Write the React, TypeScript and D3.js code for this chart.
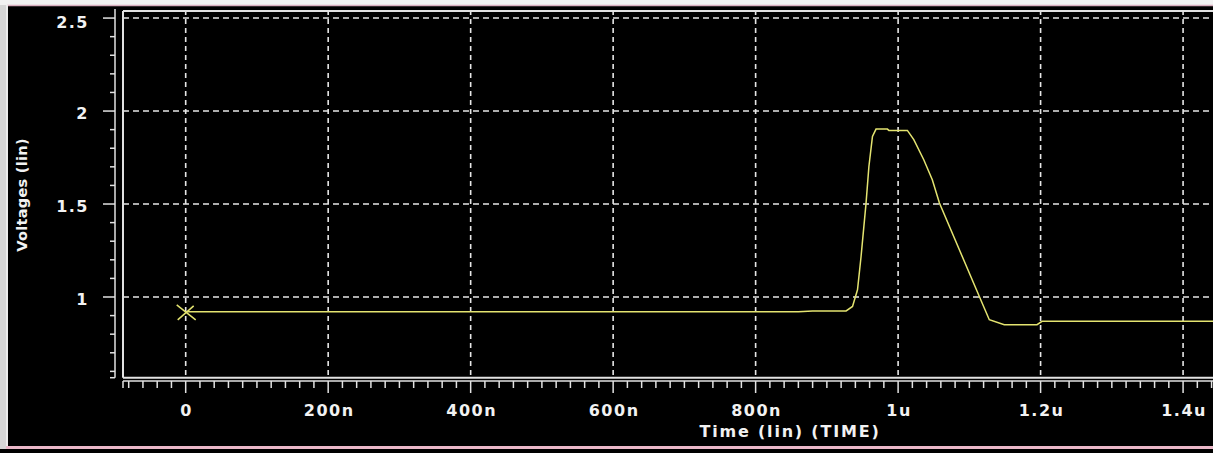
import React from "react";
import * as d3 from "d3";

// Waveform samples (time in ns, voltage in V)
const timeNs = [0, 860, 880, 927, 936, 943, 948, 955, 959, 964, 969, 985, 987, 1013, 1022, 1036, 1048, 1058, 1114, 1128, 1149, 1195, 1202, 1442];
const voltage = [0.92, 0.92, 0.925, 0.925, 0.949, 1.039, 1.218, 1.505, 1.702, 1.863, 1.903, 1.903, 1.896, 1.896, 1.846, 1.738, 1.631, 1.505, 1.003, 0.878, 0.851, 0.851, 0.869, 0.869];

const xTickValues = [0, 200, 400, 600, 800, 1000, 1200, 1400];
const xTickLabels = ["0", "200n", "400n", "600n", "800n", "1u", "1.2u", "1.4u"];
const yTickValues = [1, 1.5, 2, 2.5];
const yTickLabels = ["1", "1.5", "2", "2.5"];

const xDomain = [-88, 1442];
const yDomain = [0.566, 2.538];

const W = 1213;
const H = 453;
const PL = 123, PR = 1213, PT = 11, PB = 377.7;

const FONT = "'DejaVu Sans', Verdana, sans-serif";
const GRID = "#e6e6e6";
const AXIS = "#e2e2e2";
const TRACE = "#e4e470";

export default function App() {
  const x = d3.scaleLinear().domain(xDomain).range([PL, PR]);
  const y = d3.scaleLinear().domain(yDomain).range([PB, PT]);

  const pts = timeNs.map((t, i) => [t, voltage[i]] as [number, number]);
  const line = d3.line<[number, number]>().x((d) => x(d[0])).y((d) => y(d[1]));

  // minor ticks
  const xMinor = d3.range(Math.ceil(xDomain[0] / 20) * 20, xDomain[1] + 0.001, 20).filter((v) => v % 200 !== 0);
  const yMinor = d3.range(6, 26).map((v) => v / 10).filter((v) => !yTickValues.some((m) => Math.abs(m - v) < 1e-6));

  const axisY = 115;
  const axisXLineY = 381;

  const mx = x(timeNs[0]);
  const my = y(voltage[0]);

  return (
    <svg width={W} height={H} style={{ position: "absolute", left: 0, top: 0, display: "block" }}>
      {/* frame */}
      <rect x={0} y={0} width={W} height={H} fill="#d6d6d6" />
      <rect x={0} y={0} width={W} height={5} fill="#f2f2f2" />
      <rect x={8} y={5} width={W - 8} height={H - 5} fill="#000" />
      <line x1={7} x2={W} y1={5.5} y2={5.5} stroke="#d9aebf" strokeWidth={1.5} />
      <line x1={7} x2={7} y1={5} y2={448} stroke="#ececec" strokeWidth={2} />
      <rect x={6} y={446} width={W - 6} height={3} fill="#eab7c8" />
      <rect x={0} y={449} width={W} height={4} fill="#000" />

      {/* grid */}
      {yTickValues.map((v) => (
        <line key={"gy" + v} x1={PL} x2={PR} y1={y(v)} y2={y(v)} stroke={GRID} strokeWidth={1.6} strokeDasharray="6,4" />
      ))}
      {xTickValues.map((v) => (
        <line key={"gx" + v} x1={x(v)} x2={x(v)} y1={PT - 1} y2={PB} stroke={GRID} strokeWidth={1.6} strokeDasharray="5,4" />
      ))}

      {/* plot border */}
      <line x1={PL} x2={PR} y1={PT} y2={PT} stroke={AXIS} strokeWidth={2} />
      <line x1={PL} x2={PL} y1={PT} y2={PB} stroke={AXIS} strokeWidth={2} />
      <line x1={PL} x2={PR} y1={PB} y2={PB} stroke={AXIS} strokeWidth={2} />

      {/* Y axis */}
      <line x1={axisY} x2={axisY} y1={PT - 2} y2={PB} stroke={AXIS} strokeWidth={1.5} />
      {yTickValues.map((v) => (
        <line key={"yt" + v} x1={axisY - 12} x2={axisY} y1={y(v)} y2={y(v)} stroke={AXIS} strokeWidth={1.5} />
      ))}
      {yMinor.map((v) => (
        <line key={"ym" + v} x1={axisY - 5} x2={axisY} y1={y(v)} y2={y(v)} stroke={AXIS} strokeWidth={1.5} />
      ))}
      <line x1={axisY - 5} x2={axisY} y1={PB} y2={PB} stroke={AXIS} strokeWidth={1.5} />
      {yTickValues.map((v, i) => (
        <text key={"yl" + v} x={89} y={Math.max(y(v) + 8, 28)} textAnchor="end" fill="#f2f2f2" fontFamily={FONT} fontWeight="bold" fontSize={16} letterSpacing={1.5}>
          {yTickLabels[i]}
        </text>
      ))}
      <text transform="translate(27,195) rotate(-90)" textAnchor="middle" fill="#f2f2f2" fontFamily={FONT} fontWeight="bold" fontSize={14.5} letterSpacing={0.3}>
        Voltages (lin)
      </text>

      {/* X axis */}
      <line x1={PL} x2={PR} y1={axisXLineY} y2={axisXLineY} stroke={AXIS} strokeWidth={1.5} />
      <line x1={PL} x2={PL} y1={axisXLineY} y2={axisXLineY + 7} stroke={AXIS} strokeWidth={1.5} />
      {xMinor.map((v) => (
        <line key={"xm" + v} x1={x(v)} x2={x(v)} y1={axisXLineY} y2={axisXLineY + 7} stroke={AXIS} strokeWidth={1.5} />
      ))}
      {xTickValues.map((v) => (
        <line key={"xt" + v} x1={x(v)} x2={x(v)} y1={axisXLineY} y2={axisXLineY + 12} stroke={AXIS} strokeWidth={1.5} />
      ))}
      {xTickLabels.map((lab, i) => (
        <text key={"xl" + i} x={x(xTickValues[i]) + 1} y={416} textAnchor="middle" fill="#f2f2f2" fontFamily={FONT} fontWeight="bold" fontSize={16} letterSpacing={1.5}>
          {lab}
        </text>
      ))}
      <text x={790} y={437} textAnchor="middle" fill="#f2f2f2" fontFamily={FONT} fontWeight="bold" fontSize={16} letterSpacing={1.8}>
        Time (lin) (TIME)
      </text>

      {/* trace */}
      <path d={line(pts) || ""} fill="none" stroke={TRACE} strokeWidth={1.5} />
      <line x1={mx - 9} x2={mx + 10} y1={my - 7} y2={my + 8} stroke={TRACE} strokeWidth={1.5} />
      <line x1={mx - 8} x2={mx + 8} y1={my + 8} y2={my - 6} stroke={TRACE} strokeWidth={1.5} />
    </svg>
  );
}
